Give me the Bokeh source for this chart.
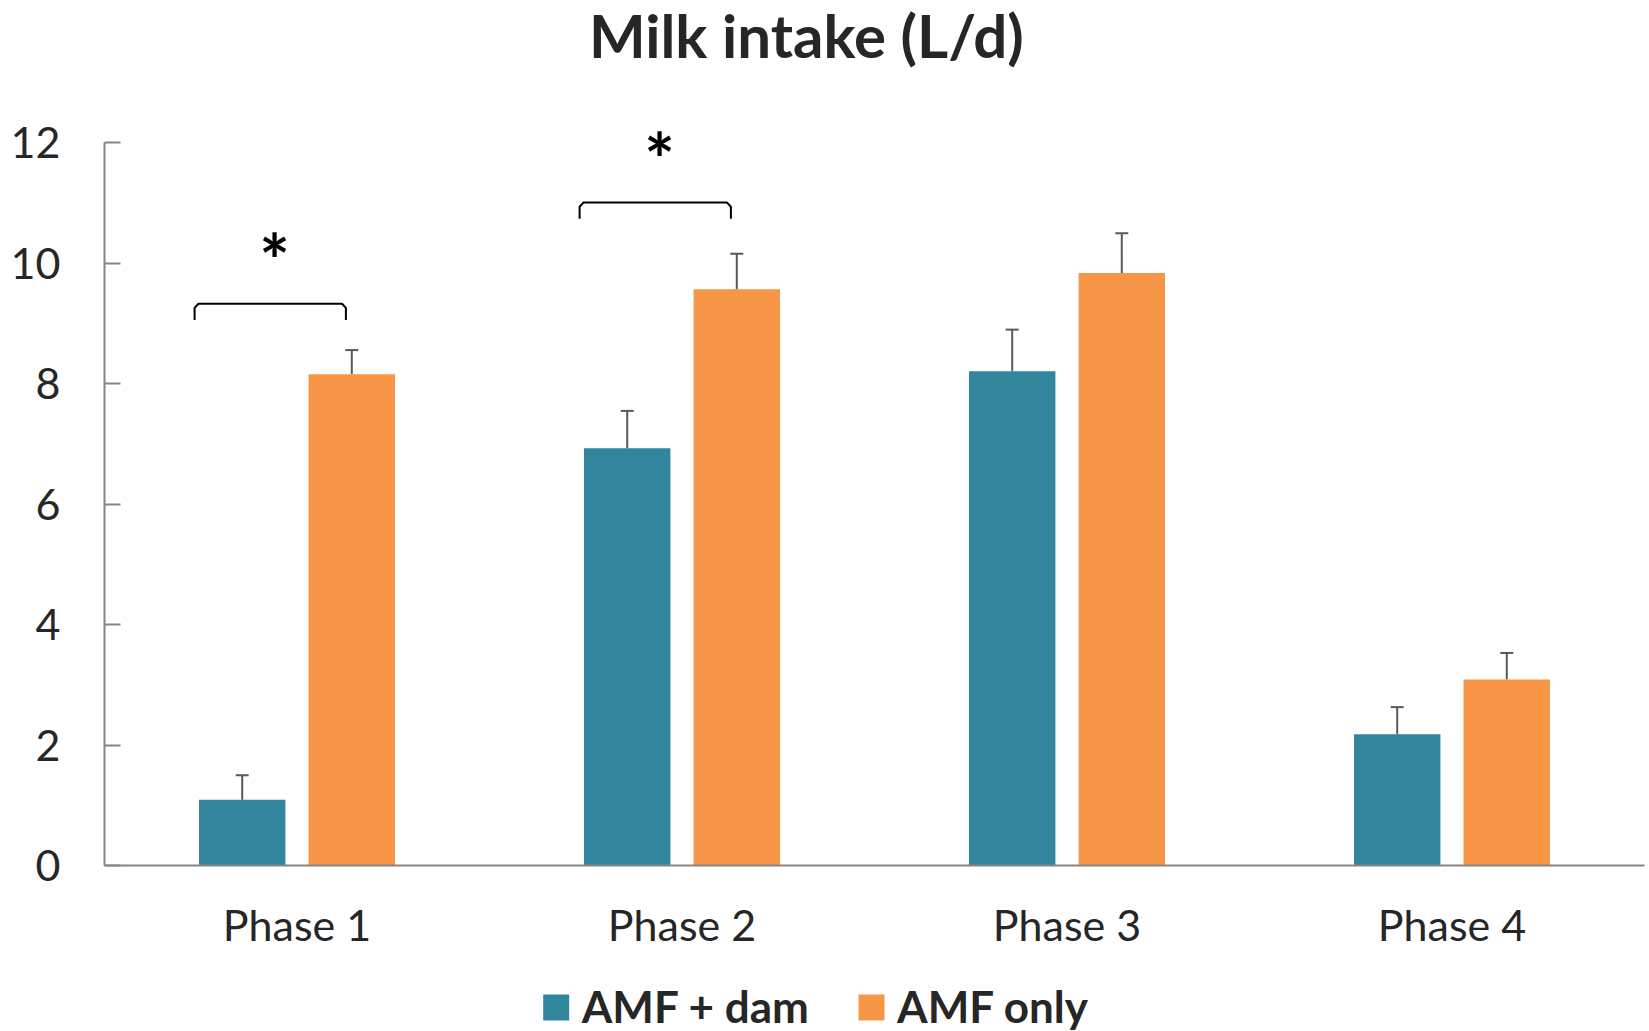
from bokeh.plotting import figure
from bokeh.layouts import column
from bokeh.models import Range1d, FixedTicker, Whisker, TeeHead, ColumnDataSource, Label
from bokeh.core.properties import value
from bokeh.embed import file_html
from bokeh.resources import INLINE

# ---- data ----
phases = ["Phase 1", "Phase 2", "Phase 3", "Phase 4"]
amf_dam = [1.09, 6.93, 8.21, 2.18]
amf_dam_err = [0.41, 0.62, 0.69, 0.45]
amf_only = [8.16, 9.57, 9.84, 3.09]
amf_only_err = [0.40, 0.59, 0.66, 0.44]
y_ticks = [0, 2, 4, 6, 8, 10, 12]
series_names = ["AMF + dam", "AMF only"]
# significance annotations
sig_phase = [0, 1]
sig_bracket_y = [9.33, 11.01]
sig_star_y = [10.05, 11.74]

TEAL = "#31859C"
ORANGE = "#F79646"
TXT = "#262626"
AXIS = "#868686"
FONT = "Lato"

OFF = 0.1423
BW = 0.2244
LEFT, RIGHT = 104, 5
W = 1649

centers = [i + 0.5 for i in range(len(phases))]
src_a = ColumnDataSource(dict(x=[c - OFF for c in centers], top=amf_dam,
                              up=[v + e for v, e in zip(amf_dam, amf_dam_err)]))
src_b = ColumnDataSource(dict(x=[c + OFF for c in centers], top=amf_only,
                              up=[v + e for v, e in zip(amf_only, amf_only_err)]))

p = figure(width=W, height=955, output_backend="svg", toolbar_location=None,
           x_range=Range1d(0, 4.0), y_range=Range1d(0, 14.366),
           min_border_left=LEFT, min_border_right=RIGHT, min_border_top=0, min_border_bottom=90)
p.outline_line_color = None
p.xgrid.visible = False
p.ygrid.visible = False

p.vbar(x="x", top="top", width=BW, source=src_a, fill_color=TEAL, line_color=None)
p.vbar(x="x", top="top", width=BW, source=src_b, fill_color=ORANGE, line_color=None)

for src in (src_a, src_b):
    w = Whisker(base="x", lower="top", upper="up", source=src, dimension="height",
                line_color="#595959", line_width=2,
                upper_head=TeeHead(size=13, line_color="#595959", line_width=2),
                lower_head=None)
    p.add_layout(w)

# significance brackets
L_OFF, R_OFF, DROP = -0.266, 0.127, 0.27
bx, by = [], []
for ph, yb in zip(sig_phase, sig_bracket_y):
    c = centers[ph]
    x0, x1 = c + L_OFF, c + R_OFF
    bx.append([x0, x0, x0 + 0.01, x1 - 0.01, x1, x1])
    by.append([yb - DROP, yb - 0.07, yb, yb, yb - 0.07, yb - DROP])
p.multi_line(bx, by, line_color="black", line_width=2)
p.text(x=[centers[ph] - 0.058 for ph in sig_phase], y=sig_star_y, text=["*"] * len(sig_phase),
       text_font=value(FONT), text_font_size="72px", text_font_style="bold",
       text_align="center", text_baseline="middle", text_color="black")

# axes
p.yaxis.bounds = (0, 12)
p.yaxis.ticker = FixedTicker(ticks=y_ticks)
p.yaxis.minor_tick_line_color = None
p.yaxis.major_tick_in = 16
p.yaxis.major_tick_out = 0
p.yaxis.major_tick_line_color = AXIS
p.yaxis.major_tick_line_width = 2
p.yaxis.axis_line_color = AXIS
p.yaxis.axis_line_width = 2
p.yaxis.major_label_standoff = 44
p.yaxis.major_label_text_font = FONT
p.yaxis.major_label_text_font_size = "43px"
p.yaxis.major_label_text_color = TXT

p.xaxis.ticker = FixedTicker(ticks=centers)
p.xaxis.major_label_overrides = {c: n for c, n in zip(centers, phases)}
p.xaxis.major_tick_line_color = None
p.xaxis.minor_tick_line_color = None
p.xaxis.axis_line_color = AXIS
p.xaxis.axis_line_width = 2
p.xaxis.major_label_standoff = 27
p.xaxis.major_label_text_font = FONT
p.xaxis.major_label_text_font_size = "43px"
p.xaxis.major_label_text_color = TXT

# title
p.add_layout(Label(x=1.823, y=13.80, text="Milk intake (L/d)", text_font=FONT,
                   text_font_size="60px", text_font_style="bold", text_color=TXT,
                   text_align="center", text_baseline="alphabetic"))

# ---- legend strip (x in page pixels, frame aligned with the main plot's frame) ----
LEG_H = 76
lg = figure(width=W, height=LEG_H, output_backend="svg", toolbar_location=None,
            x_range=Range1d(LEFT, W - RIGHT), y_range=Range1d(0, LEG_H),
            x_axis_location=None, y_axis_location=None,
            min_border_left=LEFT, min_border_right=RIGHT,
            min_border_top=0, min_border_bottom=0)
lg.grid.visible = False
lg.outline_line_color = None
SQ = 26
leg_left = [542.7, 858.0]
leg_base = 11
lg.rect(x=[l + SQ / 2 for l in leg_left], y=[leg_base + SQ / 2] * 2, width=SQ, height=SQ,
        fill_color=[TEAL, ORANGE], line_color=None)
lg.text(x=[l + SQ + 12.6 for l in leg_left], y=[leg_base + 15] * 2, text=series_names,
        text_font=value(FONT), text_font_size="44px", text_font_style="bold",
        text_color=TXT, text_align="left", text_baseline="alphabetic")

open("out.html", "w").write(file_html(column(p, lg, spacing=0), INLINE))
